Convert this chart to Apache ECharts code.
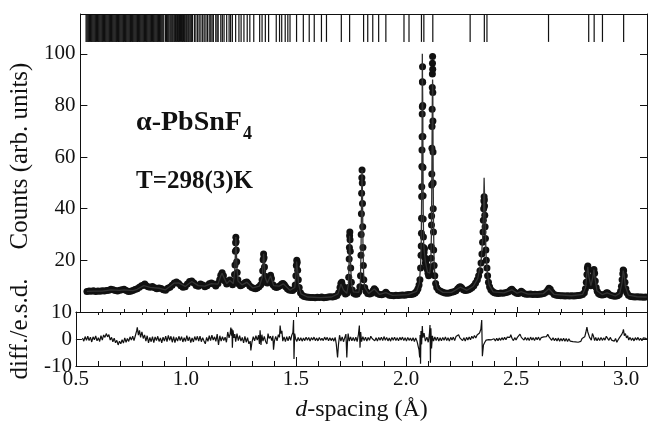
<!DOCTYPE html>
<html><head><meta charset="utf-8">
<script src="https://cdn.jsdelivr.net/npm/echarts@6/dist/echarts.min.js"></script>
<style>html,body{margin:0;padding:0;background:#fff}#c{width:648px;height:433px}</style>
</head><body><div id="c"></div><script>
// ---------- data ----------
const xTicks = [0.5, 1.0, 1.5, 2.0, 2.5, 3.0];
const countTicks = [20, 40, 60, 80, 100];
const diffTicks = [-10, 0, 10];

// reflection positions (d-spacing, Å)
const reflections = [0.526,0.530,0.534,0.538,0.542,0.546,0.550,0.554,0.558,0.562,0.566,0.570,0.574,0.578,0.582,0.586,0.590,0.594,0.598,0.602,0.606,0.610,0.614,0.618,0.622,0.626,0.630,0.634,0.638,0.642,0.646,0.650,0.654,0.658,0.662,0.666,0.670,0.674,0.678,0.682,0.686,0.690,0.694,0.698,0.702,0.706,0.710,0.714,0.718,0.722,0.726,0.730,0.734,0.738,0.742,0.746,0.750,0.754,0.758,0.762,0.766,0.770,0.774,0.778,0.782,0.786,0.790,0.794,0.798,0.802,0.806,0.810,0.814,0.818,0.822,0.826,0.830,0.834,0.838,0.842,0.846,0.850,0.854,0.858,0.862,0.866,0.870,0.874,0.878,0.882,
0.890,0.894,0.898,0.902,0.906,0.911,0.915,0.919,0.923,0.928,0.932,0.936,0.941,0.945,0.950,0.954,0.958,0.963,0.967,0.972,0.976,0.980,0.985,0.989,0.994,0.998,1.003,1.008,1.013,
1.022,1.029,1.037,1.044,1.052,1.060,1.067,1.075,1.082,1.090,1.097,1.103,1.109,1.120,1.126,1.131,1.143,1.150,1.158,1.170,1.181,1.188,1.196,1.211,1.226,1.236,1.249,1.264,1.276,
1.294,1.321,1.332,1.347,1.362,1.397,1.412,1.422,1.438,1.450,1.460,1.490,1.521,1.548,1.571,1.604,1.627,1.695,1.733,1.797,1.816,1.839,1.866,1.899,1.982,2.005,2.062,2.073,2.114,2.285,2.350,2.362,2.644,2.828,2.853,2.891,2.988];

// observed counts [d, counts]
const obsA = [[0.530,7.9],[0.540,8.1],[0.550,8.0],[0.560,8.2],[0.570,7.9],[0.580,8.1],[0.590,8.0],[0.600,8.2],[0.610,8.1],[0.620,8.3],[0.630,8.4],[0.640,8.8],[0.650,8.6],[0.660,8.3],[0.670,8.1],[0.680,8.4],[0.690,8.6],[0.700,8.8],[0.710,8.3],[0.720,7.9],[0.730,8.0],[0.740,8.3],[0.750,8.7],[0.760,9.0],[0.770,9.6],[0.780,10.2],[0.790,10.5],[0.795,10.8],[0.800,10.3],[0.810,9.8],[0.820,9.6],[0.830,9.9],[0.840,9.4],[0.850,9.0],[0.860,9.3],[0.870,9.1],[0.880,8.6],[0.890,8.4],[0.900,9.2],[0.910,9.6],[0.920,10.4],[0.930,11.2],[0.940,11.6],[0.950,11.0],[0.960,10.2],[0.970,9.6],[0.980,9.8],[0.990,10.8]];
const obsB = [[1.000,11.8],[1.010,12.0],[1.020,11.2],[1.030,10.3],[1.040,10.0],[1.050,10.8],[1.060,10.5],[1.070,9.8],[1.080,10.2],[1.090,10.9],[1.100,11.2],[1.110,10.8],[1.120,10.1],[1.130,11.0],[1.138,12.5],[1.143,14.2],[1.149,15.2],[1.155,14.0],[1.162,12.0],[1.170,10.8],[1.178,11.8],[1.184,12.4],[1.190,11.5],[1.197,10.6],[1.203,11.8],[1.206,14.5],[1.208,18.2],[1.210,23.5],[1.211,26.8],[1.212,28.9],[1.213,27.2],[1.214,24.0],[1.216,19.5],[1.218,15.3],[1.221,12.5],[1.226,10.8],[1.233,10.2],[1.240,10.5],[1.248,10.9],[1.255,11.4],[1.262,11.6],[1.268,11.0],[1.276,10.1],[1.285,9.5],[1.294,9.2],[1.302,9.0],[1.310,9.3],[1.318,9.8],[1.326,10.6],[1.332,12.5],[1.335,16.0],[1.337,20.2],[1.339,22.5],[1.341,21.0],[1.343,17.4],[1.346,13.8],[1.350,11.5],[1.356,11.2],[1.362,12.0],[1.367,12.8],[1.371,14.2],[1.375,13.0],[1.382,10.6],[1.390,9.8],[1.398,9.5],[1.406,9.8],[1.414,10.2],[1.422,10.8],[1.428,11.0],[1.434,10.6],[1.440,9.8],[1.448,9.0],[1.456,8.5],[1.464,8.4],[1.472,8.3],[1.480,8.9],[1.484,10.5],[1.487,14.0],[1.489,18.0],[1.491,20.0],[1.493,19.2],[1.495,16.2],[1.498,12.5]];
const obsC = [[1.502,9.5],[1.508,7.5],[1.516,6.5],[1.525,6.0],[1.535,5.8],[1.545,5.7],[1.555,5.6],[1.565,5.6],[1.575,5.5],[1.585,5.7],[1.595,5.6],[1.605,5.8],[1.615,5.5],[1.625,5.6],[1.635,5.8],[1.645,5.9],[1.655,5.8],[1.665,6.0],[1.675,6.4],[1.683,7.5],[1.689,9.5],[1.693,11.0],[1.697,11.5],[1.701,10.2],[1.707,8.0],[1.714,7.0],[1.721,7.4],[1.726,9.5],[1.729,13.5],[1.731,20.5],[1.732,25.0],[1.733,29.5],[1.734,31.0],[1.735,28.0],[1.736,23.5],[1.738,17.0],[1.741,11.5],[1.745,8.5],[1.752,7.3],[1.760,6.9],[1.768,7.0],[1.775,7.8],[1.780,9.8],[1.783,14.0],[1.785,22.0],[1.786,30.0],[1.787,38.0],[1.788,46.0],[1.789,52.0],[1.790,55.0],[1.791,50.0],[1.792,42.0],[1.793,33.0],[1.794,25.0],[1.796,18.0],[1.798,12.5],[1.802,9.5],[1.808,8.0],[1.816,7.2],[1.825,7.0],[1.834,7.3],[1.840,8.2],[1.846,9.0],[1.852,8.4],[1.860,7.2],[1.870,6.8],[1.880,6.7],[1.890,7.0],[1.899,7.6],[1.906,7.0],[1.915,6.5],[1.925,6.4],[1.935,6.3],[1.945,6.5],[1.955,6.4],[1.965,6.5],[1.975,6.6],[1.985,6.5],[1.995,6.7],[2.005,6.8],[2.015,6.8],[2.025,7.0],[2.033,7.4],[2.040,8.0],[2.046,9.0]];
const obsD = [[2.051,10.5],[2.055,12.5],[2.058,17.0],[2.060,22.0],[2.061,25.6],[2.062,30.5],[2.0625,36.3],[2.063,44.7],[2.0635,48.5],[2.064,56.3],[2.0645,62.7],[2.065,67.9],[2.0655,76.7],[2.066,79.5],[2.0665,89.2],[2.067,95.0],[2.0675,89.0],[2.068,80.0],[2.0685,68.0],[2.069,56.0],[2.0695,45.0],[2.070,36.0],[2.071,29.0],[2.072,25.0],[2.074,23.0],[2.076,24.5],[2.078,21.0],[2.080,19.0],[2.083,20.0],[2.086,18.0],[2.089,16.5],[2.092,15.0],[2.095,14.0],[2.098,14.5],[2.101,15.5],[2.104,17.0],[2.106,20.8],[2.107,25.3],[2.108,33.7],[2.1085,37.2],[2.109,49.2],[2.1095,53.4],[2.110,63.4],[2.1105,71.8],[2.111,78.5],[2.1115,86.9],[2.112,92.2],[2.1125,96.3],[2.113,98.9],[2.1135,94.0],[2.114,85.0],[2.1145,74.0],[2.115,62.0],[2.1155,50.0],[2.116,40.0],[2.117,31.0],[2.118,24.0],[2.120,18.0],[2.123,14.0],[2.127,11.0],[2.132,9.5],[2.140,8.5],[2.150,8.0],[2.160,7.6],[2.170,7.4],[2.180,7.3],[2.190,7.4],[2.200,7.6],[2.210,7.8],[2.220,8.2],[2.228,9.0],[2.235,9.6],[2.240,9.8],[2.246,9.4],[2.254,8.6],[2.262,8.3],[2.270,8.4],[2.278,8.6],[2.286,9.0],[2.294,9.5],[2.302,10.2],[2.310,11.2],[2.318,12.5],[2.324,14.0],[2.330,16.0],[2.335,19.0],[2.339,22.5],[2.342,27.0]];
const obsE = [[2.344,31.0],[2.3455,35.5],[2.347,40.0],[2.348,43.0],[2.349,44.6],[2.350,43.5],[2.351,41.0],[2.352,37.5],[2.3535,33.0],[2.355,28.5],[2.357,24.0],[2.359,20.0],[2.362,17.0],[2.365,14.0],[2.369,11.5],[2.374,9.8],[2.380,8.6],[2.388,7.9],[2.396,7.5],[2.405,7.3],[2.415,7.2],[2.425,7.4],[2.435,7.3],[2.445,7.5],[2.455,7.6],[2.463,7.9],[2.470,8.5],[2.476,8.8],[2.482,8.2],[2.490,7.6],[2.498,7.3],[2.506,7.2],[2.513,7.5],[2.519,8.0],[2.525,7.6],[2.533,7.1],[2.542,6.9],[2.552,6.9],[2.562,7.0],[2.572,6.8],[2.582,6.9],[2.592,6.8],[2.602,6.9],[2.612,7.0],[2.622,7.2],[2.632,7.6],[2.640,8.4],[2.646,9.2],[2.652,8.8],[2.660,7.6],[2.670,6.8],[2.680,6.5],[2.690,6.4],[2.700,6.3],[2.710,6.3],[2.720,6.2],[2.730,6.3],[2.740,6.2],[2.750,6.3],[2.760,6.2],[2.770,6.3],[2.780,6.4],[2.790,6.5],[2.800,6.8],[2.808,7.5],[2.813,9.0],[2.817,11.5],[2.820,14.5],[2.822,17.0],[2.824,17.8],[2.826,16.5],[2.829,13.5],[2.833,11.0],[2.838,10.2],[2.843,11.0],[2.847,13.5],[2.850,15.8],[2.852,16.5],[2.855,15.0],[2.858,12.0],[2.862,9.5],[2.867,8.0],[2.873,7.2],[2.880,6.8],[2.888,6.6],[2.896,6.7],[2.904,7.0],[2.910,7.5],[2.915,7.4],[2.922,6.8],[2.930,6.4],[2.940,6.2],[2.950,6.1],[2.960,6.3],[2.968,6.8],[2.974,8.0],[2.978,10.0],[2.981,12.5],[2.984,14.8],[2.986,16.3],[2.988,16.0],[2.991,14.0],[2.994,11.5],[2.998,9.0],[3.003,7.5],[3.010,6.5],[3.020,6.0],[3.030,5.9],[3.040,5.8],[3.050,5.9],[3.060,5.8],[3.070,5.8],[3.080,5.7],[3.090,5.8]];

// calculated profile [d, counts]
const calc = [[0.530,8.0],[0.560,8.1],[0.600,8.1],[0.640,8.6],[0.680,8.4],[0.700,8.6],[0.740,8.3],[0.760,8.8],[0.790,10.2],[0.820,9.5],[0.860,9.2],[0.890,8.6],[0.930,11.2],[0.950,11.3],[0.980,9.9],[1.010,11.8],[1.040,10.2],[1.070,10.0],[1.100,11.0],[1.130,10.8],[1.143,14.0],[1.149,15.0],[1.156,13.6],[1.170,11.0],[1.184,12.2],[1.200,11.0],[1.207,16.0],[1.210,23.0],[1.212,29.0],[1.214,24.0],[1.217,17.0],[1.222,12.0],[1.240,10.5],[1.262,11.5],[1.290,9.3],[1.320,10.0],[1.333,13.5],[1.337,20.0],[1.339,22.5],[1.342,19.0],[1.346,13.5],[1.356,11.2],[1.371,14.0],[1.385,10.2],[1.410,10.0],[1.430,10.9],[1.460,8.4],[1.482,9.5],[1.487,14.5],[1.490,19.5],[1.492,20.0],[1.495,16.0],[1.499,11.0],[1.510,7.0],[1.540,5.8],[1.600,5.6],[1.650,5.8],[1.680,7.0],[1.693,10.8],[1.697,11.2],[1.705,8.5],[1.720,7.2],[1.728,11.0],[1.731,20.5],[1.733,29.5],[1.735,29.0],[1.737,20.0],[1.741,11.5],[1.750,7.8],[1.775,7.6],[1.782,11.0],[1.785,22.0],[1.787,38.0],[1.789,52.0],[1.790,55.0],[1.792,44.0],[1.794,27.0],[1.797,15.0],[1.802,9.5],[1.820,7.2],[1.846,8.9],[1.870,6.8],[1.899,7.5],[1.930,6.4],[2.000,6.7],[2.040,8.0],[2.052,11.0],[2.058,17.5],[2.061,27.0],[2.063,45.0],[2.065,72.0],[2.066,100.0],[2.067,88.0],[2.068,80.0],[2.069,60.0],[2.070,40.0],[2.072,27.0],[2.075,23.5],[2.080,19.5],[2.090,15.5],[2.100,15.0],[2.105,19.0],[2.108,32.0],[2.110,58.0],[2.112,84.0],[2.113,90.0],[2.114,86.0],[2.115,65.0],[2.117,35.0],[2.120,19.0],[2.125,12.5],[2.135,9.0],[2.160,7.6],[2.200,7.6],[2.240,9.6],[2.270,8.4],[2.300,10.0],[2.320,13.0],[2.335,19.5],[2.342,28.0],[2.346,38.0],[2.349,52.0],[2.351,45.0],[2.354,33.0],[2.358,22.0],[2.364,15.0],[2.372,10.5],[2.390,7.8],[2.440,7.4],[2.476,8.6],[2.500,7.3],[2.519,7.9],[2.550,6.9],[2.620,7.1],[2.646,9.0],[2.670,6.8],[2.750,6.3],[2.800,6.8],[2.814,9.5],[2.820,15.0],[2.824,17.5],[2.829,13.5],[2.838,10.2],[2.847,13.5],[2.852,16.4],[2.857,13.0],[2.866,8.2],[2.890,6.7],[2.912,7.4],[2.950,6.2],[2.970,7.2],[2.980,11.0],[2.986,16.0],[2.990,14.5],[2.996,10.0],[3.010,6.5],[3.050,5.9],[3.094,5.8]];

// difference / e.s.d. [d, value]
const diffA = [[0.530,0.4],[0.536,-0.8],[0.542,0.9],[0.548,-0.5],[0.554,1.0],[0.560,-0.6],[0.566,0.7],[0.572,-1.1],[0.578,0.8],[0.584,-0.3],[0.590,1.1],[0.596,-0.7],[0.602,0.5],[0.608,-0.9],[0.614,1.2],[0.620,-0.4],[0.626,1.5],[0.632,0.6],[0.638,2.0],[0.644,0.8],[0.650,1.6],[0.656,-0.4],[0.662,0.6],[0.668,-1.0],[0.674,0.3],[0.680,-1.4],[0.686,-0.5],[0.692,-2.2],[0.698,-0.8],[0.704,-1.8],[0.710,-0.3],[0.716,-1.5],[0.722,0.4],[0.728,-1.2],[0.734,0.2],[0.740,-0.9],[0.746,0.8],[0.752,-0.4],[0.758,1.0],[0.764,-0.6],[0.770,1.2],[0.776,3.0],[0.779,4.3],[0.784,1.4],[0.789,3.2],[0.794,0.6],[0.800,2.6],[0.806,0.2],[0.812,1.5],[0.818,-0.8],[0.824,1.2],[0.830,-1.4],[0.836,0.6],[0.842,-1.0],[0.848,0.9],[0.854,-1.3],[0.860,0.8],[0.866,-0.6],[0.872,1.0],[0.878,-0.9],[0.884,0.4],[0.890,-1.4],[0.896,0.7],[0.902,-0.8],[0.908,1.1],[0.914,-1.0],[0.920,1.3],[0.926,-0.5],[0.932,1.0],[0.938,-1.2],[0.944,0.9],[0.950,-1.3],[0.956,0.6],[0.962,-0.8],[0.968,1.0],[0.974,-0.6],[0.980,0.9],[0.986,-1.1],[0.992,0.5],[0.998,-0.9],[1.004,1.2],[1.010,-0.7],[1.016,0.8],[1.022,-1.3],[1.028,0.4],[1.034,-1.1],[1.040,0.9],[1.046,-0.5],[1.052,1.0],[1.058,-0.8],[1.064,1.1],[1.070,-1.0],[1.076,0.5],[1.082,-0.7],[1.088,-1.8],[1.094,0.6],[1.100,-0.9],[1.106,1.2],[1.112,-0.6],[1.118,1.4],[1.124,-0.4],[1.130,0.8],[1.136,-0.9],[1.142,1.8],[1.148,-2.2],[1.154,1.2],[1.160,-0.8],[1.166,0.9],[1.172,-0.6],[1.178,0.7],[1.184,-1.2],[1.190,2.6],[1.196,0.4],[1.201,2.0],[1.204,4.2],[1.207,1.2],[1.209,3.8],[1.211,-3.2],[1.214,3.2],[1.218,0.4],[1.222,1.8],[1.226,-1.0],[1.232,2.0],[1.238,-0.6],[1.244,1.2],[1.250,-0.8],[1.256,0.6],[1.262,-1.4],[1.268,1.0],[1.274,-1.2],[1.280,0.5],[1.286,-1.8],[1.292,-0.8],[1.295,-4.2],[1.300,-1.2],[1.306,0.9],[1.312,-0.7],[1.318,1.2],[1.324,-0.4],[1.330,1.4],[1.334,-1.8],[1.337,3.2],[1.341,-2.2],[1.345,1.6],[1.350,-0.8],[1.356,1.0],[1.362,-0.9],[1.368,-1.8],[1.373,2.0],[1.378,0.2],[1.384,1.0],[1.390,-0.6],[1.395,1.2],[1.398,-4.0],[1.402,-0.8],[1.408,1.0],[1.414,-0.7],[1.420,1.6],[1.425,0.6],[1.428,5.0],[1.432,2.0],[1.436,3.0],[1.440,-0.8],[1.446,0.8],[1.452,-1.0],[1.458,0.9],[1.464,-0.7],[1.470,1.0],[1.476,-0.5],[1.481,1.4],[1.486,2.4],[1.489,7.0],[1.491,-7.4],[1.494,2.0],[1.498,0.2]];
const diffB = [[1.504,-0.9],[1.510,0.6],[1.516,-0.7],[1.522,0.5],[1.528,-0.8],[1.534,0.4],[1.540,-0.6],[1.546,0.7],[1.552,-0.5],[1.558,0.6],[1.564,-0.8],[1.570,0.5],[1.576,-0.4],[1.582,0.7],[1.588,-0.6],[1.594,0.4],[1.600,-0.7],[1.606,0.6],[1.612,-0.5],[1.618,0.3],[1.624,-0.6],[1.630,0.7],[1.636,-0.4],[1.642,0.6],[1.648,-0.7],[1.654,0.5],[1.660,-0.6],[1.666,0.4],[1.672,-0.8],[1.678,0.6],[1.683,-1.8],[1.689,-6.8],[1.693,-2.2],[1.698,1.4],[1.704,-0.8],[1.710,0.8],[1.716,-1.0],[1.722,0.6],[1.727,1.8],[1.731,-6.8],[1.734,-1.2],[1.737,2.0],[1.742,-0.8],[1.748,0.8],[1.754,-0.7],[1.760,0.6],[1.766,-0.8],[1.772,0.7],[1.778,-1.0],[1.784,1.8],[1.788,5.0],[1.791,-3.2],[1.794,2.6],[1.798,-1.0],[1.804,0.9],[1.810,-0.6],[1.816,0.7],[1.822,-0.8],[1.828,0.6],[1.834,-0.5],[1.840,1.0],[1.846,0.2],[1.852,0.9],[1.858,-0.7],[1.864,0.5],[1.870,-0.8],[1.876,0.6],[1.882,-0.5],[1.888,0.7],[1.894,-0.6],[1.900,0.9],[1.906,-0.5],[1.912,0.6],[1.918,-0.7],[1.924,0.4],[1.930,-0.8],[1.936,0.6],[1.942,-0.5],[1.948,0.7],[1.954,-0.6],[1.960,0.5],[1.966,-0.7],[1.972,0.6],[1.978,-0.4],[1.984,0.7],[1.990,-0.6],[1.996,0.5],[2.002,-0.8],[2.008,0.6],[2.014,-0.5],[2.020,0.4],[2.026,-0.7],[2.032,0.5],[2.038,-0.9],[2.044,0.4],[2.049,-0.6],[2.052,-1.5],[2.056,-3.0],[2.059,-4.0],[2.062,-6.8],[2.064,1.5],[2.066,-9.2],[2.068,3.0],[2.071,-2.0],[2.074,4.8],[2.077,0.5],[2.082,2.2],[2.088,-0.8],[2.095,0.7],[2.101,-1.2],[2.106,1.6],[2.109,5.2],[2.111,-8.8],[2.113,4.0],[2.116,-3.5],[2.120,1.2],[2.125,-0.8],[2.131,0.8],[2.137,-0.6],[2.143,0.7],[2.149,-0.8],[2.155,0.5],[2.161,-0.7],[2.167,0.6],[2.173,-0.5],[2.179,0.8],[2.185,-0.6],[2.191,0.5],[2.197,-0.8],[2.203,0.6],[2.209,-0.4],[2.215,0.7],[2.221,-0.6],[2.227,0.9],[2.233,0.2],[2.239,1.6],[2.245,0.4],[2.251,0.8],[2.257,-0.6],[2.263,0.5],[2.269,-0.8],[2.275,0.6],[2.281,-0.4],[2.287,0.7],[2.293,-0.3],[2.299,1.0],[2.305,0.2],[2.311,1.3],[2.317,0.4],[2.323,1.5],[2.329,0.8],[2.334,2.2],[2.340,3.6],[2.344,7.0],[2.347,-6.4],[2.352,-2.2],[2.358,-1.2]];
const diffC = [[2.364,-0.4],[2.370,-1.0],[2.376,-0.2],[2.382,-0.9],[2.388,-0.3],[2.394,-0.8],[2.400,0.1],[2.406,-0.7],[2.412,0.3],[2.418,-0.6],[2.424,0.4],[2.430,-0.5],[2.436,0.5],[2.442,-0.4],[2.448,0.6],[2.454,-0.3],[2.460,0.7],[2.466,1.2],[2.472,0.6],[2.476,1.6],[2.482,0.2],[2.488,-0.6],[2.494,0.5],[2.500,-0.4],[2.506,0.6],[2.512,0.3],[2.518,1.8],[2.524,0.6],[2.530,0.9],[2.536,-0.4],[2.542,0.6],[2.548,-0.5],[2.554,0.5],[2.560,-0.6],[2.566,0.7],[2.572,-0.4],[2.578,0.5],[2.584,-0.6],[2.590,0.6],[2.596,-0.3],[2.602,0.7],[2.608,-0.5],[2.614,0.5],[2.620,-0.2],[2.626,0.8],[2.632,0.2],[2.638,0.9],[2.644,1.7],[2.650,0.8],[2.656,0.3],[2.662,-0.5],[2.668,0.5],[2.674,-0.6],[2.680,0.3],[2.686,-0.7],[2.692,0.4],[2.698,-0.8],[2.704,0.2],[2.710,-0.7],[2.716,0.3],[2.722,-0.8],[2.728,0.2],[2.734,-0.9],[2.740,0.1],[2.746,-0.8],[2.752,-0.2],[2.758,-1.0],[2.764,-0.3],[2.770,-1.1],[2.776,-0.4],[2.782,-1.2],[2.788,-0.5],[2.794,-0.9],[2.800,0.2],[2.806,-0.3],[2.812,0.8],[2.817,2.4],[2.822,4.4],[2.826,2.6],[2.830,3.2],[2.834,0.6],[2.838,1.2],[2.842,-0.4],[2.847,2.0],[2.852,1.0],[2.857,-0.6],[2.862,0.6],[2.868,-0.7],[2.874,0.5],[2.880,-0.6],[2.886,0.6],[2.892,-0.5],[2.898,0.4],[2.904,-0.4],[2.910,1.0],[2.916,0.5],[2.922,-0.5],[2.928,0.6],[2.934,-0.4],[2.940,0.3],[2.946,-0.8],[2.952,0.2],[2.958,-1.2],[2.964,-0.3],[2.970,0.5],[2.976,0.9],[2.981,1.8],[2.985,2.6],[2.988,3.6],[2.992,1.2],[2.997,2.0],[3.002,0.4],[3.007,1.2],[3.012,-0.4],[3.018,0.6],[3.024,-0.5],[3.030,0.4],[3.036,-0.7],[3.042,0.5],[3.048,-0.4],[3.054,0.6],[3.060,-0.5],[3.066,0.3],[3.072,-0.6],[3.078,0.4],[3.084,-0.3],[3.090,0.2],[3.095,-0.1]];

// ---------- chart ----------
const FONT = '"Liberation Serif", "Times New Roman", serif';
const INK = '#111';
const X_MIN = 0.5, X_MAX = 3.095;
const Y_MAX = 115.4, TICK_LO = 104.6;

const observed = obsA.concat(obsB, obsC, obsD, obsE);
const difference = diffA.concat(diffB, diffC);

// width of the formula text, for placing its subscript
const FORMULA_FONT = 'bold 28px ' + FONT;
const mctx = document.createElement('canvas').getContext('2d');
mctx.font = FORMULA_FONT;
const formulaW = mctx.measureText('α-PbSnF').width;

function xAx(grid, opts) {
  return Object.assign({
    gridIndex: grid, type: 'value', min: X_MIN, max: X_MAX, interval: 0.5,
    axisLine: {show: true, onZero: false, lineStyle: {color: INK, width: 1}},
    axisTick: {show: true, inside: true, length: 5, lineStyle: {color: INK, width: 1}},
    minorTick: {show: true, splitNumber: 5, length: 3, lineStyle: {color: INK, width: 1}},
    axisLabel: {show: false},
    splitLine: {show: false}, minorSplitLine: {show: false}
  }, opts);
}

const chart = echarts.init(document.getElementById('c'), null, {renderer: 'canvas'});
chart.setOption({
  animation: false,
  backgroundColor: '#fff',
  grid: [
    {left: 75, right: 1, top: 14, height: 298},
    {left: 75, right: 1, top: 312, height: 54}
  ],
  xAxis: [
    xAx(0, {position: 'bottom'}),
    xAx(0, {position: 'top', axisTick: {show: false}, minorTick: {show: false}}),
    xAx(1, {position: 'bottom', axisTick: {show: true, inside: true, length: 9, lineStyle: {color: INK}},
      minorTick: {show: true, splitNumber: 5, length: 5, lineStyle: {color: INK}},
      axisLabel: {show: true, color: INK, fontSize: 21, fontFamily: FONT, margin: 3, showMaxLabel: false,
        formatter: v => xTicks.some(t => Math.abs(t - v) < 1e-6) ? v.toFixed(1) : ''},
      name: '{i|d}-spacing (Å)', nameLocation: 'middle', nameGap: 32,
      nameTextStyle: {color: INK, fontSize: 24, fontFamily: FONT, rich: {i: {fontStyle: 'italic', fontSize: 24, fontFamily: FONT, color: INK}}}}),
    xAx(1, {position: 'top'})
  ],
  yAxis: [
    {gridIndex: 0, type: 'value', min: 0, max: Y_MAX, interval: 20, position: 'left',
      axisLine: {show: true, lineStyle: {color: INK}},
      axisTick: {show: true, inside: true, length: 7, lineStyle: {color: INK}},
      axisLabel: {color: INK, fontSize: 21, fontFamily: FONT, margin: 5, showMaxLabel: false,
        formatter: v => countTicks.includes(v) ? String(v) : ''},
      splitLine: {show: false},
      name: 'Counts (arb. units)', nameLocation: 'middle', nameGap: 42,
      nameTextStyle: {color: INK, fontSize: 25, fontFamily: FONT, padding: [0, 0, 0, 14]}},
    {gridIndex: 0, type: 'value', min: 0, max: Y_MAX, interval: 20, position: 'right',
      axisLine: {show: true, lineStyle: {color: INK}},
      axisTick: {show: true, inside: true, length: 7, lineStyle: {color: INK}},
      axisLabel: {show: false}, splitLine: {show: false}},
    {gridIndex: 1, type: 'value', min: -10, max: 10, interval: 10, position: 'left',
      axisLine: {show: true, lineStyle: {color: INK}},
      axisTick: {show: true, inside: true, length: 6, lineStyle: {color: INK}},
      axisLabel: {color: INK, fontSize: 21, fontFamily: FONT, margin: 4,
        formatter: v => diffTicks.includes(v) ? String(v) : ''},
      splitLine: {show: false},
      name: 'diff./e.s.d.', nameLocation: 'middle', nameGap: 42,
      nameTextStyle: {color: INK, fontSize: 25, fontFamily: FONT, padding: [0, 0, 0, 20]}},
    {gridIndex: 1, type: 'value', min: -10, max: 10, interval: 10, position: 'right',
      axisLine: {show: true, lineStyle: {color: INK}},
      axisTick: {show: true, inside: true, length: 6, lineStyle: {color: INK}},
      axisLabel: {show: false}, splitLine: {show: false}}
  ],
  graphic: [
    {type: 'text', left: 136, top: 109, style: {text: 'α-PbSnF', font: FORMULA_FONT, fill: INK}},
    {type: 'text', left: 136 + formulaW + 1, top: 125, style: {text: '4', font: 'bold 18px ' + FONT, fill: INK}},
    {type: 'text', left: 136, top: 169, style: {text: 'T=298(3)K', font: 'bold 25px ' + FONT, fill: INK}}
  ],
  series: [
    {type: 'custom', xAxisIndex: 0, yAxisIndex: 0, clip: true,
      data: reflections.map(d => [d, TICK_LO]),
      encode: {x: 0, y: 1},
      renderItem: (params, api) => {
        const p1 = api.coord([api.value(0), TICK_LO]);
        const p2 = api.coord([api.value(0), Y_MAX]);
        return {type: 'line', shape: {x1: p1[0], y1: p1[1], x2: p2[0], y2: p2[1]},
          style: {stroke: INK, lineWidth: 1.2}};
      }},
    {type: 'scatter', xAxisIndex: 0, yAxisIndex: 0, data: observed, symbol: 'circle', symbolSize: 7,
      itemStyle: {color: '#111', opacity: 1}, z: 2},
    {type: 'line', xAxisIndex: 0, yAxisIndex: 0, data: calc, showSymbol: false, symbol: 'none',
      lineStyle: {color: '#333', width: 1.3}, z: 3},
    {type: 'line', xAxisIndex: 2, yAxisIndex: 2, data: difference, showSymbol: false, symbol: 'none',
      lineStyle: {color: INK, width: 1.2}, z: 3}
  ]
});
</script></body></html>
